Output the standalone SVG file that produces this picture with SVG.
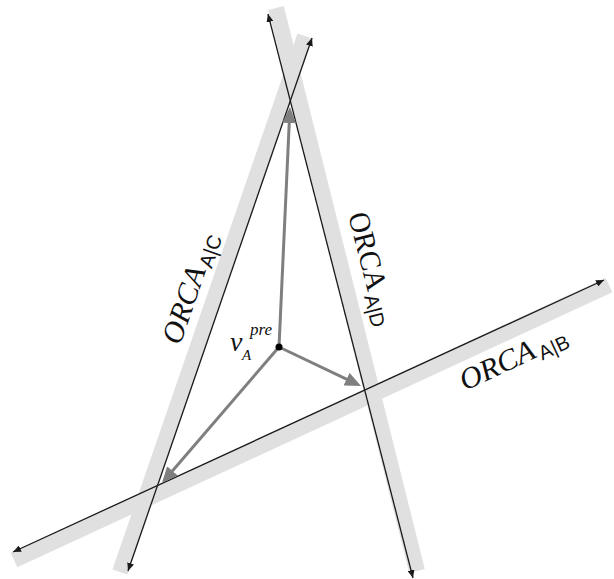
<svg xmlns="http://www.w3.org/2000/svg" width="614" height="579" viewBox="0 0 614 579">
<style>
.band{stroke:#e0e0e0;stroke-width:16;fill:none;stroke-linecap:butt}
.bl{stroke:#1a1a1a;stroke-width:1.3;fill:none;marker-start:url(#bk);marker-end:url(#bk)}
.ga{stroke:#7f7f7f;stroke-width:3;fill:none;marker-end:url(#gy)}
.orca{font-family:"Liberation Serif","Times New Roman",serif;font-style:italic;font-size:30px;fill:#111}
.orcu{font-family:"Liberation Serif","Times New Roman",serif;font-size:30px;fill:#111}
.sub{font-family:"Liberation Sans",Arial,sans-serif;font-size:20px;fill:#111}
.m{font-family:"Liberation Serif","Times New Roman",serif;font-style:italic;fill:#111}
</style>
<defs>
<marker id="bk" markerUnits="userSpaceOnUse" viewBox="0 0 8 7" refX="8" refY="3.5" markerWidth="8" markerHeight="7" orient="auto-start-reverse">
<path d="M0,0 L8,3.5 L0,7 z" fill="#1a1a1a"/>
</marker>
<marker id="gy" markerUnits="userSpaceOnUse" viewBox="0 0 16 14" refX="8" refY="7" markerWidth="16" markerHeight="14" orient="auto">
<path d="M0,0 L16,7 L0,14 z" fill="#7f7f7f"/>
</marker>
</defs>
<g id="bands">
<line class="band" x1="120" y1="572" x2="305" y2="36"/>
<line class="band" x1="276" y1="8" x2="417" y2="571"/>
<line class="band" x1="14" y1="560" x2="609" y2="285"/>
</g>
<g id="connectors">
<line class="bl" x1="128" y1="571" x2="312" y2="38"/>
<line class="bl" x1="268" y1="14" x2="413" y2="578"/>
<line class="bl" x1="13" y1="552" x2="604" y2="280"/>
<line class="ga" x1="279" y1="347" x2="289.6" y2="115"/>
<line class="ga" x1="279" y1="347" x2="353.8" y2="382.6"/>
<line class="ga" x1="279" y1="347" x2="167.2" y2="476.9"/>
</g>
<g id="vpre">
<circle cx="279" cy="347" r="3.5" fill="#000"/>
<text class="m" x="230" y="351" font-size="28">v</text>
<text class="m" x="250" y="335" font-size="17">pre</text>
<text class="m" x="242" y="360" font-size="15">A</text>
</g>
<g id="orca-ac" transform="translate(180,346) rotate(-71)">
<text class="orca" x="0" y="0" textLength="80" lengthAdjust="spacingAndGlyphs">ORCA</text>
<text class="sub" x="83" y="5">A|C</text>
</g>
<g id="orca-ad" transform="translate(348,215) rotate(75.5)">
<text class="orcu" x="0" y="0" textLength="80" lengthAdjust="spacingAndGlyphs">ORCA</text>
<text class="sub" x="83" y="5">A|D</text>
</g>
<g id="orca-ab" transform="translate(465,391) rotate(-25)">
<text class="orca" x="0" y="0" textLength="80" lengthAdjust="spacingAndGlyphs">ORCA</text>
<text class="sub" x="83" y="5">A|B</text>
</g>
</svg>
